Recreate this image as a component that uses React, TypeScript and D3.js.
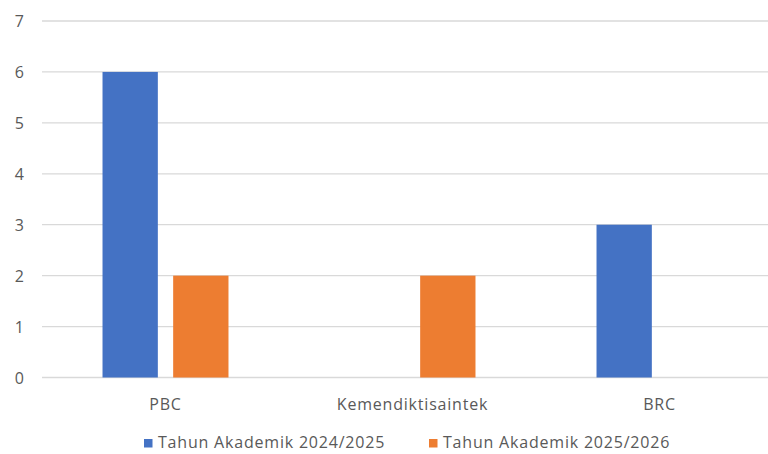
import { useEffect, useRef } from "react";
import * as d3 from "d3";

const CATEGORIES = ["PBC", "Kemendiktisaintek", "BRC"];
const SERIES = ["Tahun Akademik 2024/2025", "Tahun Akademik 2025/2026"];
const VALUES_2024 = [6, 0, 3];
const VALUES_2025 = [2, 2, 0];
const Y_TICKS = [0, 1, 2, 3, 4, 5, 6, 7];

const COLORS = ["#4472C4", "#ED7D31"];
const WIDTH = 768;
const HEIGHT = 454;
const FONT = "'Open Sans', sans-serif";
const TEXT = "#595959";

export default function App() {
  const svgRef = useRef<SVGSVGElement>(null);

  useEffect(() => {
    const svg = d3.select(svgRef.current);
    svg.selectAll("*").remove();
    svg.attr("width", WIDTH).attr("height", HEIGHT);

    svg.append("rect").attr("width", WIDTH).attr("height", HEIGHT).attr("fill", "#ffffff");

    const rows = CATEGORIES.map((c, i) => ({ cat: c, vals: [VALUES_2024[i], VALUES_2025[i]] }));

    // plot runs off the right edge like the original
    const x0 = d3.scaleBand().domain(CATEGORIES).range([42, 783]).paddingInner(0.49).paddingOuter(0.245);
    const x1 = d3.scaleBand().domain(SERIES).range([0, x0.bandwidth()]).paddingInner(0.217);
    const y = d3.scaleLinear().domain([0, 7]).range([377.5, 21]);

    const label = (sel: d3.Selection<SVGTextElement, unknown, null, undefined>) =>
      sel
        .attr("font-family", FONT)
        .attr("font-size", "16px")
        .attr("letter-spacing", "0.8px")
        .attr("fill", TEXT)
        .attr("dominant-baseline", "central");

    // gridlines
    Y_TICKS.forEach((t) => {
      svg.append("line")
        .attr("x1", 42)
        .attr("x2", WIDTH)
        .attr("y1", y(t))
        .attr("y2", y(t))
        .attr("stroke", "#d9d9d9")
        .attr("stroke-width", 1.3);

      svg.append("text")
        .attr("x", 24)
        .attr("y", y(t))
        .attr("text-anchor", "end")
        .call(label)
        .attr("letter-spacing", null)
        .text(t);
    });

    // bars
    rows.forEach((r) => {
      r.vals.forEach((v, si) => {
        if (!v) return;
        svg.append("rect")
          .attr("x", (x0(r.cat) ?? 0) + (x1(SERIES[si]) ?? 0))
          .attr("y", y(v))
          .attr("width", x1.bandwidth())
          .attr("height", y(0) - y(v))
          .attr("fill", COLORS[si]);
      });
    });

    // category labels
    CATEGORIES.forEach((c) => {
      svg.append("text")
        .attr("x", (x0(c) ?? 0) + x0.bandwidth() / 2)
        .attr("y", 404)
        .attr("text-anchor", "middle")
        .call(label)
        .text(c);
    });

    // legend
    const legendX = [144, 429];
    SERIES.forEach((s, i) => {
      svg.append("rect")
        .attr("x", legendX[i])
        .attr("y", 439)
        .attr("width", 8.5)
        .attr("height", 8.5)
        .attr("fill", COLORS[i]);
      svg.append("text")
        .attr("x", legendX[i] + 14)
        .attr("y", 442)
        .call(label)
        .text(s);
    });
  }, []);

  return <svg ref={svgRef} style={{ position: "absolute", left: 0, top: 0 }} />;
}
